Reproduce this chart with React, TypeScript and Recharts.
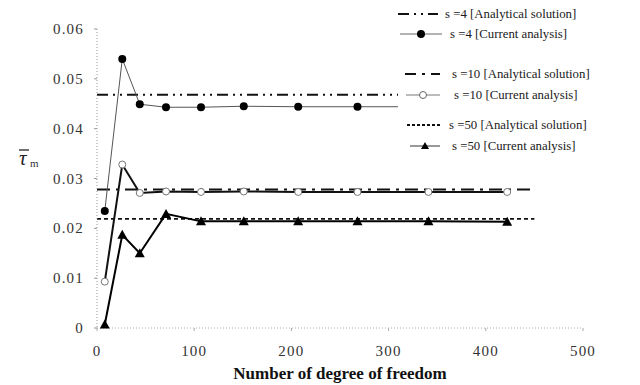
import { LineChart, Line, XAxis, YAxis, Legend, Label } from 'recharts';

// degrees of freedom used in the current analysis
const dof = [8, 26, 44, 71, 107, 151, 207, 268, 341, 422];
const s4Current = [0.0235, 0.054, 0.0449, 0.0443, 0.0443, 0.0445, 0.0444, 0.0444, 0.0444, 0.0444];
const s10Current = [0.0093, 0.0328, 0.0271, 0.0274, 0.0273, 0.0274, 0.0273, 0.0273, 0.0273, 0.0273];
const s50Current = [0.0007, 0.0187, 0.015, 0.0229, 0.0214, 0.0214, 0.0214, 0.0214, 0.0214, 0.0213];

// analytical solutions (constant over the range)
const analyticX = [0, 450];
const s4Analytic = 0.0468;
const s10Analytic = 0.0278;
const s50Analytic = 0.0219;

const xTicks = [0, 100, 200, 300, 400, 500];
const yTicks = [0, 0.01, 0.02, 0.03, 0.04, 0.05, 0.06];

const legendLabels = [
  's =4 [Analytical solution]',
  's =4 [Current analysis]',
  's =10 [Analytical solution]',
  's =10  [Current analysis]',
  's =50 [Analytical solution]',
  's =50  [Current analysis]',
];

const rows = dof.map((x, i) => ({ x, s4: s4Current[i], s10: s10Current[i], s50: s50Current[i] }));
const analyticRows = analyticX.map((x) => ({ x, a4: s4Analytic, a10: s10Analytic, a50: s50Analytic }));

const serif = '"Liberation Serif", serif';
const tickTextStyle = { fontFamily: serif, fontSize: 15, letterSpacing: 1.2, fill: '#333' };

const dash4 = '11 5 2 5 2 5';
const dash10 = '13 6 3 6';
const dash50 = '4 3';

const renderXTick = (props: any) => {
  const { x, y, payload } = props;
  return (
    <text x={x} y={y + 25} textAnchor="middle" style={tickTextStyle}>
      {payload.value}
    </text>
  );
};

const renderYTick = (props: any) => {
  const { x, y, payload } = props;
  const v = payload.value as number;
  return (
    <text x={x} y={y + 5} textAnchor="end" style={tickTextStyle}>
      {v === 0 ? '0' : v.toFixed(2)}
    </text>
  );
};

function FilledDot(props: any) {
  const { cx, cy } = props;
  return <circle cx={cx} cy={cy} r={4} fill="#000" />;
}

function OpenDot(props: any) {
  const { cx, cy } = props;
  return <circle cx={cx} cy={cy} r={3.5} fill="#fff" stroke="#777" strokeWidth={1} />;
}

function TriDot(props: any) {
  const { cx, cy } = props;
  return <path d={`M${cx},${cy - 5} L${cx + 5},${cy + 4} L${cx - 5},${cy + 4} Z`} fill="#000" />;
}

function LegendBox() {
  // rows: [y, sampleStart, sampleEnd, textX]
  const items: [number, number, number, number][] = [
    [14, 0, 40, 47],
    [34, 2, 44, 52],
    [74, 7, 42, 54],
    [95, 8, 42, 56],
    [125, 9, 42, 51],
    [146, 12, 42, 54],
  ];
  return (
    <svg width={242} height={158}>
      {items.map(([y, x1, x2, tx], i) => {
        const mid = (x1 + x2) / 2;
        let sample = null;
        if (i === 0) sample = <line x1={x1} x2={x2} y1={y} y2={y} stroke="#111" strokeWidth={2} strokeDasharray="11 5 2 5 2 5" />;
        if (i === 1)
          sample = (
            <g>
              <line x1={x1} x2={x2} y1={y} y2={y} stroke="#666" strokeWidth={1} />
              <circle cx={mid} cy={y} r={4} fill="#000" />
            </g>
          );
        if (i === 2) sample = <line x1={x1} x2={x2} y1={y} y2={y} stroke="#111" strokeWidth={2} strokeDasharray="11 6 3 6" />;
        if (i === 3)
          sample = (
            <g>
              <line x1={x1} x2={x2} y1={y} y2={y} stroke="#777" strokeWidth={1} />
              <circle cx={mid} cy={y} r={3.5} fill="#fff" stroke="#666" />
            </g>
          );
        if (i === 4) sample = <line x1={x1} x2={x2} y1={y} y2={y} stroke="#111" strokeWidth={2} strokeDasharray="3 2" />;
        if (i === 5)
          sample = (
            <g>
              <line x1={x1} x2={x2} y1={y} y2={y} stroke="#333" strokeWidth={1} />
              <path d={`M${mid},${y - 4} L${mid + 4},${y + 3} L${mid - 4},${y + 3} Z`} fill="#000" />
            </g>
          );
        return (
          <g key={i}>
            {sample}
            <text x={tx} y={y + 4} style={{ fontFamily: serif, fontSize: 12.8, fill: '#1a1a1a' }}>
              {legendLabels[i]}
            </text>
          </g>
        );
      })}
    </svg>
  );
}

function TauLabel() {
  return (
    <g>
      <line x1={19} x2={29} y1={150} y2={150} stroke="#222" strokeWidth={1.3} />
      <text x={19} y={165} style={{ fontFamily: serif, fontStyle: 'italic', fontSize: 21, fill: '#222' }}>
        τ
      </text>
      <text x={30} y={167} style={{ fontFamily: serif, fontSize: 11, fill: '#333' }}>
        m
      </text>
    </g>
  );
}

export default function App() {
  return (
    <div style={{ position: 'absolute', left: 0, top: 0, width: 640, height: 385, background: '#fff' }}>
      <LineChart width={640} height={385} margin={{ top: 29, right: 57, bottom: 0, left: 0 }}>
        <XAxis
          type="number"
          dataKey="x"
          domain={[0, 500]}
          ticks={xTicks}
          allowDataOverflow
          height={57}
          tick={renderXTick}
          tickSize={3}
          tickMargin={0}
          stroke="#aaa"
          axisLine={{ stroke: '#aaa', strokeDasharray: '1 2' }}
          tickLine={{ stroke: '#aaa' }}
        >
          <Label
            value="Number of degree of freedom"
            position="insideBottom"
            offset={6}
            style={{ fontFamily: serif, fontWeight: 'bold', fontSize: 17, fill: '#111' }}
          />
        </XAxis>
        <YAxis
          type="number"
          domain={[0, 0.06]}
          ticks={yTicks}
          width={97}
          tick={renderYTick}
          tickSize={3}
          tickMargin={10}
          axisLine={{ stroke: '#999', strokeDasharray: '1 2' }}
          tickLine={{ stroke: '#999' }}
        >
          <Label content={() => <TauLabel />} />
        </YAxis>

        <Line data={analyticRows} dataKey="a4" stroke="#111" strokeWidth={2} strokeDasharray={dash4} dot={false} isAnimationActive={false} />
        <Line data={analyticRows} dataKey="a10" stroke="#111" strokeWidth={2} strokeDasharray={dash10} dot={false} isAnimationActive={false} />
        <Line data={analyticRows} dataKey="a50" stroke="#111" strokeWidth={1.6} strokeDasharray={dash50} dot={false} isAnimationActive={false} />

        <Line data={rows} dataKey="s4" type="linear" stroke="#555" strokeWidth={1} dot={<FilledDot />} isAnimationActive={false} />
        <Line data={rows} dataKey="s10" type="linear" stroke="#111" strokeWidth={2} dot={<OpenDot />} isAnimationActive={false} />
        <Line data={rows} dataKey="s50" type="linear" stroke="#000" strokeWidth={2} dot={<TriDot />} isAnimationActive={false} />

        <Legend
          layout="vertical"
          align="center"
          verticalAlign="middle"
          wrapperStyle={{ left: 398, top: 0, width: 242, height: 158, background: '#fff' }}
          content={() => <LegendBox />}
        />
      </LineChart>
    </div>
  );
}
